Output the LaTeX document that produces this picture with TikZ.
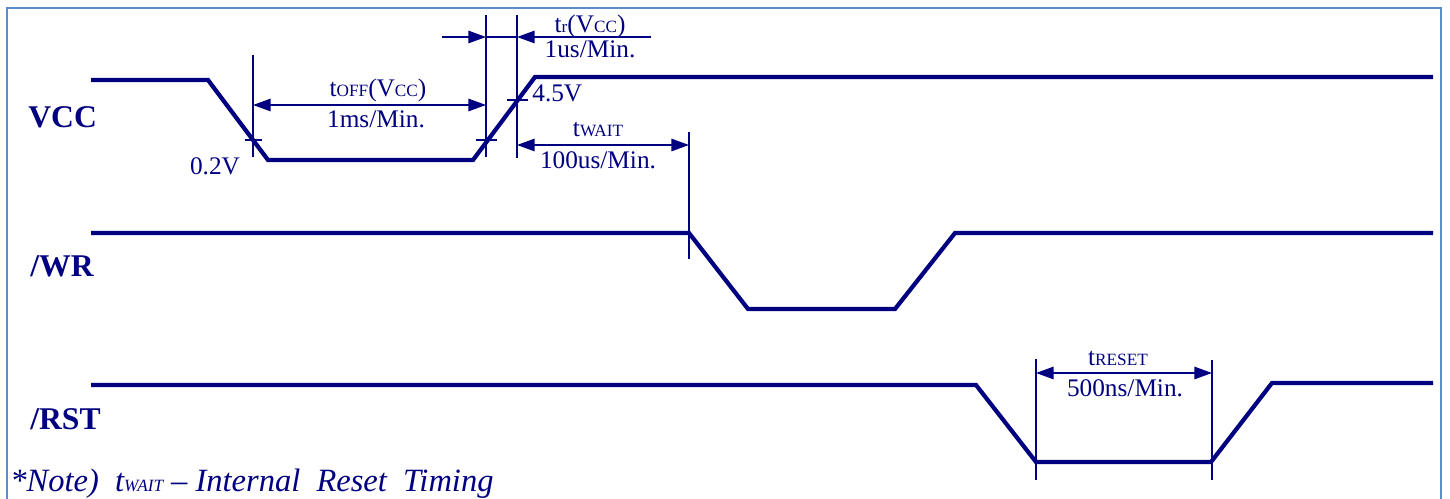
\documentclass[tikz,border=0pt]{standalone}
\usepackage{fontspec}
\setmainfont{Liberation Serif}
\usepackage{tikz}
\usetikzlibrary{arrows.meta}

\definecolor{sigblue}{RGB}{0,0,128}
\definecolor{frameblue}{RGB}{91,141,204}
\newcommand{\tsub}[1]{{\fontsize{9.8}{10}\selectfont #1}}

\tikzset{
  wave/.style={sigblue, line width=2.4pt},
  guide/.style={sigblue, line width=1.1pt},
  dimarr/.style={guide, {Triangle[length=10pt,width=7pt]}-{Triangle[length=10pt,width=7pt]}},
  onearr/.style={guide, -{Triangle[length=10pt,width=7pt]}},
  siglabel/.style={sigblue, anchor=base west, inner sep=0pt,
    font=\fontsize{18}{20}\selectfont\bfseries},
  dimlabel/.style={sigblue, anchor=base, inner sep=0pt,
    font=\fontsize{14.4}{16}\selectfont},
}

\begin{document}
\begin{tikzpicture}[x=0.02cm, y=-0.02cm]
\useasboundingbox (0,0) rectangle (1450,499);
\draw[frameblue, line width=1.2pt] (7,8) rectangle (1441,540);

\draw (28,128) node[siglabel] (vcc) {VCC};
\draw (30,277) node[siglabel] (wr) {/WR};
\draw (30,430) node[siglabel] (rst) {/RST};

\draw[wave] (91,80) -- (208,80) -- (268,160) -- (473,160) -- (535,77) -- (1433,77);
\draw[wave] (91,233) -- (689,233) -- (748,309) -- (895,309) -- (955,233) -- (1433,233);
\draw[wave] (91,385) -- (976,385) -- (1036,462) -- (1211,462) -- (1272,383) -- (1433,383);

\draw[guide] (253,55) -- (253,157);
\draw[guide] (486,15) -- (486,157);
\draw[guide] (517,15) -- (517,158);
\draw[guide] (689,132) -- (689,259);
\draw[guide] (1036,359) -- (1036,480);
\draw[guide] (1212,360) -- (1212,480);
\draw[guide] (245,140) -- (262,140);
\draw[guide] (476,140) -- (497,140);
\draw[guide] (507,100) -- (528,100);

\coordinate (offL) at (253,105);
\coordinate (offR) at (486,105);
\coordinate (trA) at (442,37);
\coordinate (trL) at (486,37);
\coordinate (trR) at (517,37);
\coordinate (trB) at (651,37);
\coordinate (waitL) at (517,145);
\coordinate (waitR) at (689,145);
\coordinate (resL) at (1036,373);
\coordinate (resR) at (1212,373);

\draw[dimarr] (offL) -- (offR);
\draw[onearr] (trA) -- (trL);
\draw[guide] (trL) -- (trR);
\draw[onearr] (trB) -- (trR);
\draw[dimarr] (waitL) -- (waitR);
\draw[dimarr] (resL) -- (resR);

\draw (378,97) node[dimlabel] (toff) {t\tsub{OFF}(V\tsub{CC})};
\draw (376,128) node[dimlabel] (toffmin) {1ms/Min.};
\draw (590,33) node[dimlabel] (trise) {t\tsub{r}(V\tsub{CC})};
\draw (590,58) node[dimlabel] (trisemin) {1us/Min.};
\draw (532,102) node[dimlabel, anchor=base west] (hi) {4.5V};
\draw (215,175) node[dimlabel] (lo) {0.2V};
\draw (598,137) node[dimlabel] (twait) {t\tsub{WAIT}};
\draw (598,169) node[dimlabel] (twaitmin) {100us/Min.};
\draw (1118,366) node[dimlabel] (treset) {t\tsub{RESET}};
\draw (1125,397) node[dimlabel] (tresetmin) {500ns/Min.};

\draw (10,492) node[sigblue, anchor=base west, inner sep=0pt,
  font=\fontsize{18.5}{20}\selectfont\itshape] (note)
  {*Note)\ \ t\tsub{WAIT} \textendash\ Internal\ \ Reset\ \ Timing};
\end{tikzpicture}
\end{document}
